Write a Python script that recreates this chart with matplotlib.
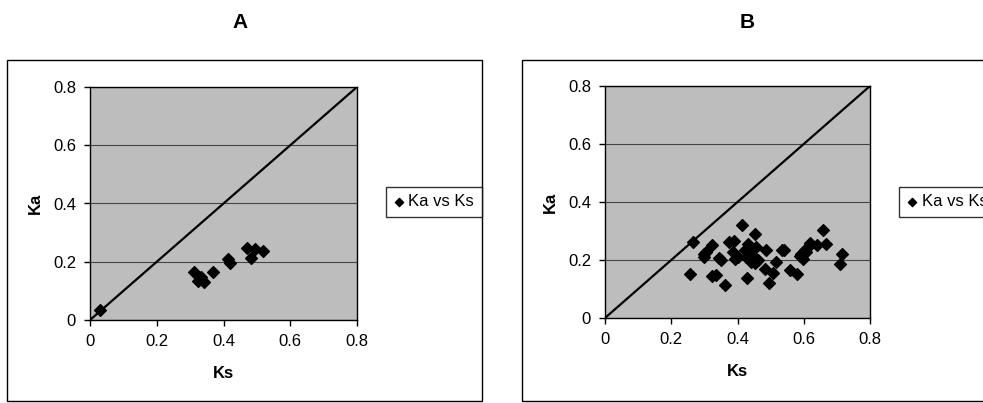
import numpy as np
import matplotlib
matplotlib.use('Agg')
import matplotlib.pyplot as plt
from matplotlib.patches import Rectangle

plt.rcParams['font.family'] = ['Liberation Sans', 'DejaVu Sans']

# panel A data
ks_a = [0.030, 0.313, 0.323, 0.333, 0.343, 0.370, 0.413, 0.418, 0.469, 0.481, 0.494, 0.519]
ka_a = [0.035, 0.166, 0.135, 0.146, 0.129, 0.165, 0.209, 0.195, 0.247, 0.214, 0.243, 0.237]

# panel B data
ks_b = [0.258, 0.267, 0.298, 0.304, 0.300, 0.323, 0.324, 0.334, 0.345, 0.351,
        0.363, 0.374, 0.389, 0.386, 0.391, 0.400, 0.414, 0.422, 0.427, 0.429,
        0.432, 0.437, 0.442, 0.442, 0.447, 0.452, 0.452, 0.455, 0.462, 0.482,
        0.485, 0.495, 0.507, 0.516, 0.533, 0.540, 0.558, 0.580, 0.590, 0.593,
        0.598, 0.603, 0.606, 0.610, 0.620, 0.640, 0.659, 0.667, 0.709, 0.714]
ka_b = [0.151, 0.262, 0.210, 0.228, 0.220, 0.253, 0.144, 0.147, 0.208, 0.201,
        0.113, 0.262, 0.266, 0.228, 0.205, 0.212, 0.320, 0.233, 0.210, 0.139,
        0.256, 0.240, 0.228, 0.193, 0.215, 0.289, 0.188, 0.245, 0.199, 0.170,
        0.236, 0.121, 0.155, 0.193, 0.233, 0.236, 0.164, 0.151, 0.215, 0.222,
        0.205, 0.233, 0.228, 0.240, 0.259, 0.251, 0.305, 0.254, 0.185, 0.219]

ticks = [0, 0.2, 0.4, 0.6, 0.8]
tick_labels = ['0', '0.2', '0.4', '0.6', '0.8']

W, H = 983, 403
fig = plt.figure(figsize=(W / 100, H / 100), dpi=100)


def fx(px):
    return px / W


def fy(py):
    return 1 - py / H


# outer chart boxes
fig.patches.append(Rectangle((fx(7), fy(401)), fx(475), (401 - 60) / H,
                             transform=fig.transFigure, fill=False, lw=1, ec='black'))
fig.patches.append(Rectangle((fx(522), fy(401)), fx(470), (401 - 60) / H,
                             transform=fig.transFigure, fill=False, lw=1, ec='black'))


def panel(rect, ks, ka, title, title_x, leg_x):
    ax = fig.add_axes(rect)
    ax.set_facecolor('#bdbdbd')
    ax.plot([0, 0.8], [0, 0.8], color='black', lw=1.6, zorder=3)
    ax.scatter(ks, ka, marker='D', s=36, color='black', zorder=4, label='Ka vs Ks')
    ax.set_xlim(0, 0.8)
    ax.set_ylim(0, 0.8)
    ax.set_xticks(ticks)
    ax.set_xticklabels(tick_labels)
    ax.set_yticks(ticks)
    ax.set_yticklabels(tick_labels)
    ax.yaxis.grid(True, color='#444444', lw=0.8)
    ax.set_axisbelow(True)
    ax.tick_params(labelsize=12, length=4, width=1, pad=6)
    for s in ax.spines.values():
        s.set_linewidth(1)
    ax.set_xlabel('Ks', fontsize=12, fontweight='bold', labelpad=12)
    ax.set_ylabel('Ka', fontsize=12, fontweight='bold', labelpad=7)
    fig.text(title_x, fy(22), title, fontsize=15, fontweight='bold',
             ha='center', va='center')
    fig.legend(loc='center left', bbox_to_anchor=(leg_x, fy(202)),
               borderaxespad=0, fontsize=12, frameon=True, fancybox=False,
               edgecolor='black', handlelength=0.6, handletextpad=0.3,
               borderpad=0.45, markerscale=0.7, handles=ax.collections[:1])
    return ax


panel([fx(90), fy(320), fx(267), 233 / H], ks_a, ka_a, 'A', fx(240), fx(386))
panel([fx(605), fy(318), fx(265), 232 / H], ks_b, ka_b, 'B', fx(747), fx(899))

fig.savefig('out.png', dpi=100)
